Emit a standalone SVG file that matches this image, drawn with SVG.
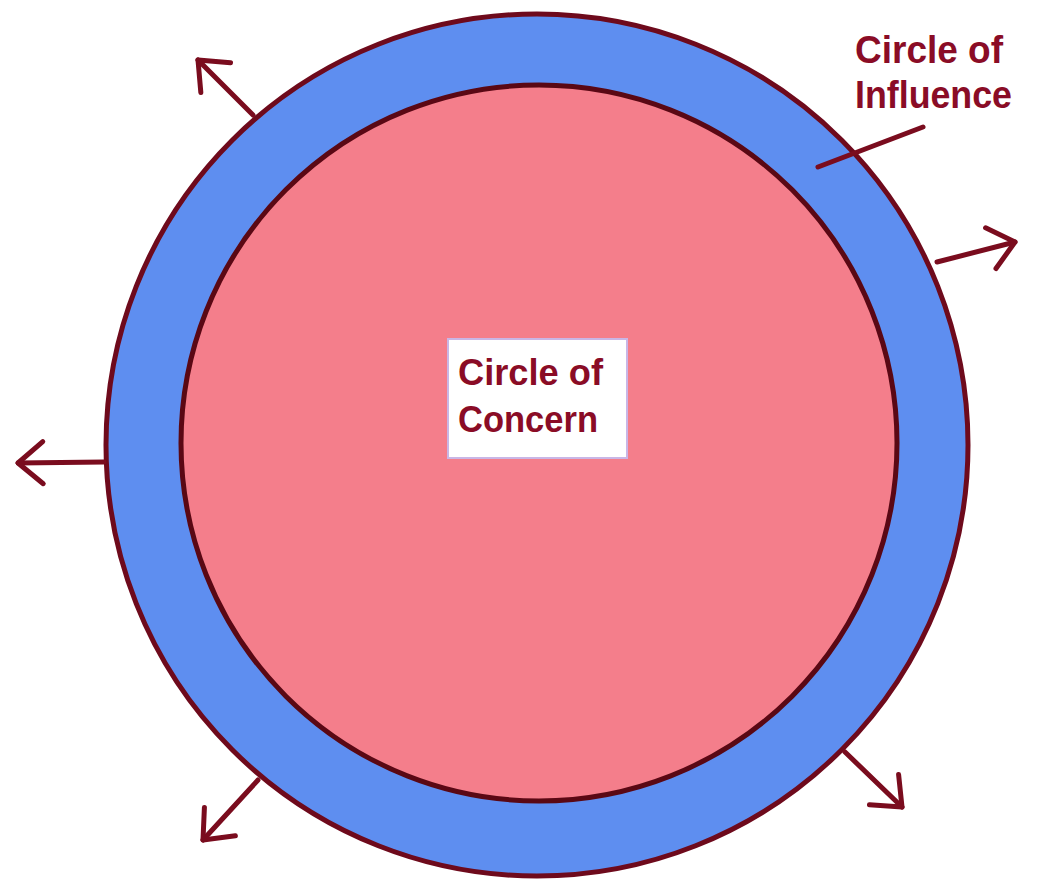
<svg xmlns="http://www.w3.org/2000/svg" width="1038" height="883" viewBox="0 0 1038 883">
  <style>
    .ring { fill: #5e8ef0; stroke: #6e0a1c; stroke-width: 5; }
    .core { fill: #f47e8b; stroke: #5a0814; stroke-width: 5; }
    .conn { fill: none; stroke: #7a0c1e; stroke-width: 5; stroke-linecap: round; stroke-linejoin: round; }
    .lbl { font-family: "Liberation Sans", Arial, sans-serif; font-weight: bold; fill: #8a0c26; }
  </style>
  <defs>
    <marker id="chev" viewBox="-32 -26 38 52" refX="0" refY="0" markerWidth="38" markerHeight="52" markerUnits="userSpaceOnUse" orient="auto">
      <path d="M -25 -21 L 0 0 L -25 21" fill="none" stroke="#7a0c1e" stroke-width="5" stroke-linecap="round" stroke-linejoin="round"/>
    </marker>
  </defs>
  <rect width="1038" height="883" fill="#ffffff"/>

  <g id="circle-of-influence">
    <circle class="ring" cx="537" cy="445" r="431"/>
    <text class="lbl" x="855" y="63" font-size="38" textLength="148" lengthAdjust="spacingAndGlyphs">Circle of</text>
    <text class="lbl" x="855" y="108" font-size="38" textLength="157" lengthAdjust="spacingAndGlyphs">Influence</text>
  </g>

  <g id="circle-of-concern">
    <circle class="core" cx="539" cy="443" r="358"/>
    <rect x="448" y="339" width="179" height="119" fill="#ffffff" stroke="#c9b6e6" stroke-width="2"/>
    <text class="lbl" x="458" y="385" font-size="36" textLength="145" lengthAdjust="spacingAndGlyphs">Circle of</text>
    <text class="lbl" x="458" y="432" font-size="36" textLength="140" lengthAdjust="spacingAndGlyphs">Concern</text>
  </g>

  <g id="connectors">
    <line class="conn" x1="923" y1="127" x2="818" y2="167"/>
    <line class="conn" x1="253" y1="115" x2="198" y2="60" marker-end="url(#chev)"/>
    <line class="conn" x1="937" y1="262" x2="1015" y2="242" marker-end="url(#chev)"/>
    <line class="conn" x1="104" y1="462" x2="18" y2="463" marker-end="url(#chev)"/>
    <line class="conn" x1="258" y1="780" x2="203" y2="840" marker-end="url(#chev)"/>
    <line class="conn" x1="845" y1="752" x2="902" y2="807" marker-end="url(#chev)"/>
  </g>
</svg>
